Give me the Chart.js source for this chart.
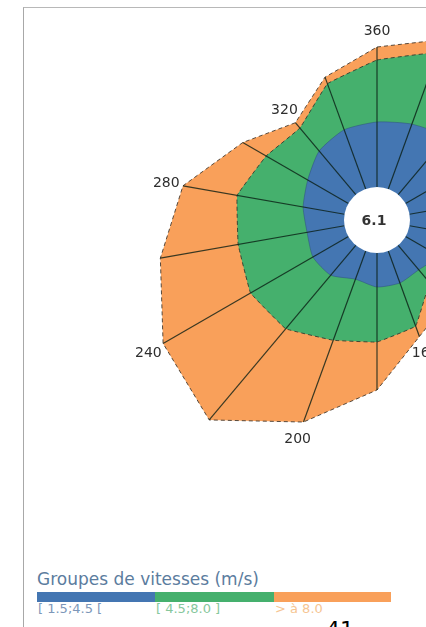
<!DOCTYPE html>
<html>
<head>
<meta charset="utf-8">
<script src="https://cdn.jsdelivr.net/npm/chart.js@4.4.1/dist/chart.umd.min.js"></script>
<style>
  html, body { margin:0; padding:0; width:426px; height:627px; overflow:hidden; background:#fff; }
  #frame { position:absolute; left:23px; top:7px; width:500px; height:700px; border-left:1px solid #a8a8a8; border-top:1px solid #b8b8b8; }
  #c { position:absolute; left:77px; top:-80px; }
  #legTitle { position:absolute; left:37px; top:569px; line-height:20px; font-family:"DejaVu Sans", sans-serif; font-size:17px; color:#5b7c9e; white-space:nowrap; }
  .bar { position:absolute; top:592px; height:10px; }
  .lab { position:absolute; top:601px; line-height:16px; font-family:"DejaVu Sans", sans-serif; font-size:13px; white-space:nowrap; }
  #page { position:absolute; left:326px; top:617px; font-family:"DejaVu Sans", sans-serif; font-size:22px; color:#000; }
</style>
</head>
<body>
<div id="frame"></div>
<canvas id="c" width="600" height="600"></canvas>
<div id="legTitle"></div>
<div id="legend"></div>
<div id="page">41</div>
<script>
// Directions (degrees), index 0 at the top, clockwise
const directions = [360,20,40,60,80,100,120,140,160,180,200,220,240,260,280,300,320,340];
// Frequencies (%) per speed group and direction
const speedLow  = [3.25,3.45,3.75,3.35,2.85,2.35,1.95,1.60,1.70,1.70,1.50,1.95,2.05,1.90,2.10,2.35,2.85,3.15];
const speedMid  = [3.10,3.80,3.10,2.50,2.00,1.50,1.00,0.85,2.30,2.75,3.25,3.50,3.60,3.50,3.35,2.40,1.50,2.45];
const speedHigh = [0.65,0.70,1.50,1.75,1.75,1.50,1.30,1.30,0.55,2.40,4.35,5.95,5.05,3.95,2.75,1.35,0.35,0.35];
const speedGroups = ['[ 1.5;4.5 [', '[ 4.5;8.0 ]', '> à 8.0'];
const legendTitle = 'Groupes de vitesses (m/s)';
const calmValue = '6.1';
const labelEvery = 40;

const groupColors = ['#4476b2', '#45b06d', '#f9a05a'];
const groupLabelColors = ['#7d97b9', '#86c79c', '#f6c592'];

// cumulative (stacked) radii
const cumLow  = speedLow.map(v => v);
const cumMid  = speedMid.map((v, i) => cumLow[i] + v);
const cumHigh = speedHigh.map((v, i) => cumMid[i] + v);

// legend
document.getElementById('legTitle').textContent = legendTitle;
const legend = document.getElementById('legend');
const barLeft = [37, 155, 274], barRight = [155, 274, 391];
speedGroups.forEach((g, i) => {
  const b = document.createElement('div');
  b.className = 'bar';
  b.style.left = barLeft[i] + 'px';
  b.style.width = (barRight[i] - barLeft[i]) + 'px';
  b.style.background = groupColors[i];
  legend.appendChild(b);
  const l = document.createElement('div');
  l.className = 'lab';
  l.style.left = (barLeft[i] + 1) + 'px';
  l.style.color = groupLabelColors[i];
  l.textContent = g;
  legend.appendChild(l);
});

const overlay = {
  id: 'roseOverlay',
  afterDatasetsDraw(chart) {
    const s = chart.scales.r;
    const ctx = chart.ctx;
    ctx.save();
    // spokes
    ctx.strokeStyle = 'rgba(10,30,20,0.8)';
    ctx.lineWidth = 1.2;
    for (let i = 0; i < directions.length; i++) {
      const p0 = s.getPointPositionForValue(i, 0);
      const p1 = s.getPointPositionForValue(i, cumHigh[i]);
      ctx.beginPath();
      ctx.moveTo(p0.x, p0.y);
      ctx.lineTo(p1.x, p1.y);
      ctx.stroke();
    }
    // calm hole
    const r0 = s.getDistanceFromCenterForValue(0);
    ctx.fillStyle = '#ffffff';
    ctx.beginPath();
    ctx.arc(s.xCenter, s.yCenter, r0, 0, Math.PI * 2);
    ctx.fill();
    ctx.fillStyle = '#333';
    ctx.font = 'bold 14px "DejaVu Sans"';
    ctx.textAlign = 'center';
    ctx.textBaseline = 'middle';
    ctx.fillText(calmValue, s.xCenter - 3, s.yCenter + 1);
    // direction labels
    ctx.font = '14px "DejaVu Sans"';
    ctx.fillStyle = '#2e2e2e';
    for (let i = 0; i < directions.length; i++) {
      if (directions[i] % labelEvery !== 0) continue;
      const p = s.getPointPositionForValue(i, cumHigh[i] + 0.85);
      ctx.fillText(String(directions[i]), p.x, p.y + 1);
    }
    ctx.restore();
  }
};

new Chart(document.getElementById('c'), {
  type: 'radar',
  data: {
    labels: directions.map(String),
    datasets: [
      { label: speedGroups[0], data: cumLow, backgroundColor: groupColors[0], borderColor: 'rgba(40,70,110,0.5)', borderWidth: 0.8, fill: 'start', pointRadius: 0, tension: 0.2 },
      { label: speedGroups[1], data: cumMid, backgroundColor: groupColors[1], borderColor: 'rgba(45,55,45,0.85)', borderDash: [4, 3], borderWidth: 1, fill: 'start', pointRadius: 0, tension: 0.05 },
      { label: speedGroups[2], data: cumHigh, backgroundColor: groupColors[2], borderColor: 'rgba(60,50,40,0.85)', borderDash: [4, 3], borderWidth: 1, fill: 'start', pointRadius: 0, tension: 0 }
    ]
  },
  options: {
    responsive: false,
    animation: false,
    layout: { padding: 0 },
    plugins: { legend: { display: false }, tooltip: { enabled: false } },
    scales: {
      r: {
        min: -1.65,
        max: 13.35,
        grid: { display: false },
        angleLines: { display: false },
        ticks: { display: false },
        pointLabels: { display: false }
      }
    }
  },
  plugins: [overlay]
});
</script>
</body>
</html>
